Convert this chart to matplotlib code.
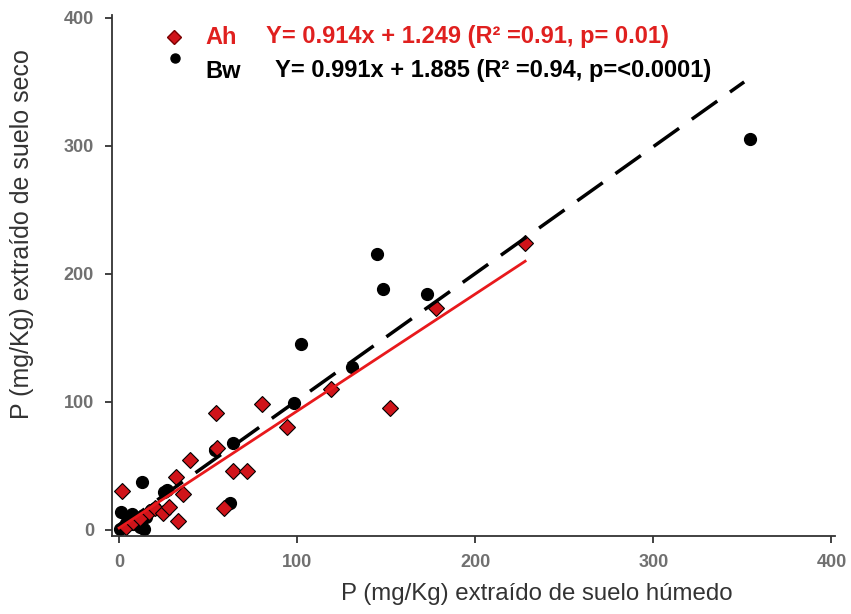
import numpy as np
import matplotlib.pyplot as plt
from matplotlib.lines import Line2D

plt.rcParams['font.family'] = ['Liberation Sans', 'DejaVu Sans']

# Ah horizon (red diamonds)
ah_x = [1.7, 4, 8, 12, 17, 20, 24.5, 28, 33, 36, 32, 39.6, 55, 54.4, 64, 72, 59, 80.4, 94, 119, 152, 178, 228]
ah_y = [30, 2, 6, 9, 14, 17, 13, 18, 6.5, 28, 41, 54, 64, 91, 46, 45.5, 17, 98, 80, 110, 95, 173, 224]
# Bw horizon (black dots)
bw_x = [0.5, 1, 2, 4, 5, 7, 8, 11, 12, 14, 15, 18, 20, 13, 25, 27, 54, 63.7, 62, 98, 102, 131, 144.6, 148, 173, 354]
bw_y = [0.5, 14, 2, 5, 8, 12, 4, 5, 2, 0.5, 10, 15, 17, 37, 29, 31, 62, 68, 21, 99, 145, 127, 215, 188, 184, 305]

# fitted lines (from the equations in the legend)
ah_fit = (0.914, 1.249)
bw_fit = (0.991, 1.885)
ah_xmax = 228
bw_xmax = 351

ah_text = 'Y= 0.914x + 1.249 (R² =0.91, p= 0.01)'
bw_text = 'Y= 0.991x + 1.885 (R² =0.94, p=<0.0001)'

W, H = 851, 614
fig = plt.figure(figsize=(W / 100, H / 100), dpi=100)
ax = fig.add_axes([112 / W, 78 / H, 723 / W, 521 / H])

xl = np.array([0, bw_xmax])
ax.plot(xl, bw_fit[0] * xl + bw_fit[1], color='black', lw=2.5, ls=(0, (9, 4.5)), zorder=3)
xr = np.array([0, ah_xmax])
ax.plot(xr, ah_fit[0] * xr + ah_fit[1], color='#e8191c', lw=2, zorder=4)

ax.plot(bw_x, bw_y, 'o', color='black', ms=8.5, zorder=2)
ax.plot(ah_x, ah_y, 'D', mfc='#d0141a', mec='black', mew=0.8, ms=8.5, zorder=2.5)

ax.set_xlim(-4, 402)
ax.set_ylim(-5, 402)
ax.set_xticks([0, 100, 200, 300, 400])
ax.set_yticks([0, 100, 200, 300, 400])
for s in ['top', 'right']:
    ax.spines[s].set_visible(False)
for s in ['left', 'bottom']:
    ax.spines[s].set_color('#333333')
    ax.spines[s].set_linewidth(1.3)
ax.tick_params(length=5, width=1.3, color='#333333', labelsize=13, labelcolor='#707070', pad=8)
for lab in ax.get_xticklabels() + ax.get_yticklabels():
    lab.set_fontweight('bold')

ax.set_xlabel('P (mg/Kg) extraído de suelo húmedo', fontsize=17.3, color='#333333')
ax.xaxis.set_label_coords(0.588, -0.09)
ax.set_ylabel('P (mg/Kg) extraído de suelo seco', fontsize=18, color='#333333')
ax.yaxis.set_label_coords(-0.108, 0.58)

# legend drawn by hand, like the original
fig.add_artist(Line2D([174 / W], [1 - 37 / H], marker='D', ms=7, mfc='#d0141a', mec='#7a0000',
                      transform=fig.transFigure))
fig.add_artist(Line2D([175 / W], [1 - 58 / H], marker='o', ms=6.5, color='black',
                      transform=fig.transFigure))
kw = dict(fontsize=17, fontweight='bold', va='center')
fig.text(205 / W, 1 - 37 / H, 'Ah', color='#e0201f', **kw)
fig.text(266 / W, 1 - 37 / H, ah_text, color='#e0201f', **kw)
fig.text(205 / W, 1 - 71 / H, 'Bw', color='black', **kw)
fig.text(275 / W, 1 - 71 / H, bw_text, color='black', **kw)

fig.savefig('out.png', dpi=100)
